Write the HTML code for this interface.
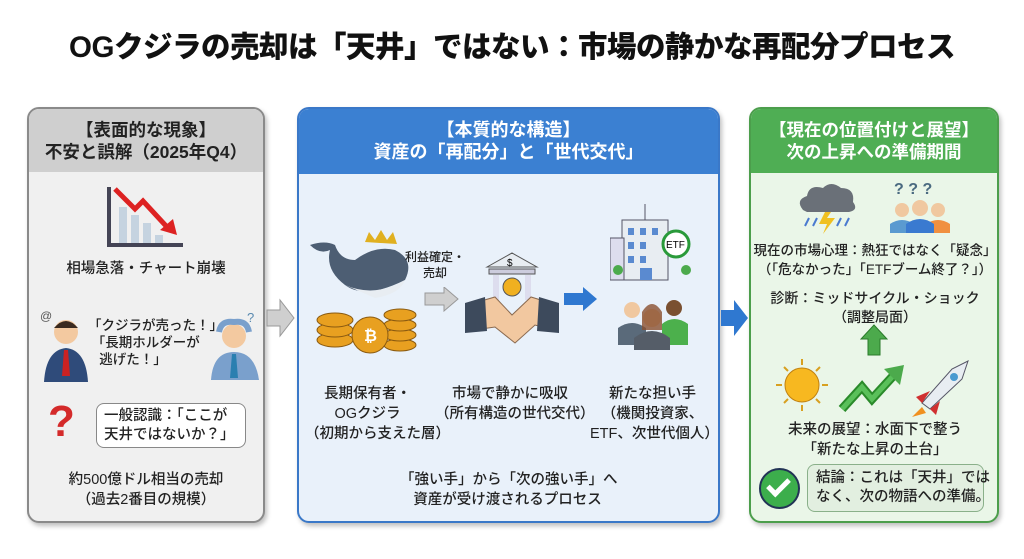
<!DOCTYPE html>
<html><head><meta charset="utf-8"><style>
*{margin:0;padding:0;box-sizing:border-box}
body{width:1024px;height:559px;background:#fff;position:relative;overflow:hidden;font-family:"Liberation Sans","Noto Sans CJK JP",sans-serif;color:#222}
.a{position:absolute}
.t{position:absolute;text-align:center;font-size:14.5px;line-height:19px;font-weight:500;color:#222;white-space:nowrap}
.panel{position:absolute;border-radius:12px;overflow:hidden;box-shadow:2px 3px 5px rgba(0,0,0,.25)}
.hd{position:absolute;left:0;right:0;top:0;text-align:center;font-weight:700;font-size:17.5px;line-height:22px;padding-top:10px;white-space:nowrap}
</style></head><body>
<div class="a" style="left:0;width:1024px;top:29px;text-align:center;font-size:29.5px;font-weight:900;letter-spacing:-0.5px;line-height:38px;color:#111;white-space:nowrap">OGクジラの売却は「天井」ではない：市場の静かな再配分プロセス</div>

<!-- left panel -->
<div class="panel" style="left:27px;top:107px;width:238px;height:416px;background:#f0f0f0;border:2px solid #8a8a8a">
 <div class="hd" style="height:63px;background:#cfcfcf;color:#222">【表面的な現象】<br>不安と誤解（2025年Q4）</div>
</div>
<svg class="a" style="left:105px;top:185px" width="80" height="65"><path d="M4 2V60H78" stroke="#445" stroke-width="4" fill="none"/><rect x="14" y="22" width="8" height="36" fill="#c5d3e0"/><rect x="26" y="30" width="8" height="28" fill="#c5d3e0"/><rect x="38" y="38" width="8" height="20" fill="#c5d3e0"/><rect x="50" y="50" width="8" height="8" fill="#c5d3e0"/><path d="M10 4L30 24L38 16L62 42" stroke="#d22" stroke-width="5" fill="none"/><path d="M55 45L72 50L68 34Z" fill="#d22"/></svg>
<div class="t" style="left:27px;width:238px;top:260px">相場急落・チャート崩壊</div>
<svg class="a" style="left:40px;top:310px" width="50" height="72"><circle cx="26" cy="22" r="12" fill="#f3c9a0"/><path d="M14 18Q26 4 38 18" fill="#3a2a20"/><path d="M4 72Q6 40 26 38Q46 40 48 72Z" fill="#2f4b7a"/><path d="M24 40h4l2 26h-8Z" fill="#c22"/><text x="0" y="10" font-size="12" fill="#555">@</text></svg>
<svg class="a" style="left:207px;top:312px" width="55" height="68"><circle cx="27" cy="24" r="12" fill="#f3c9a0"/><path d="M4 68Q6 40 27 40Q48 40 52 68Z" fill="#7aa0cc"/><path d="M25 42h4l2 24h-8Z" fill="#2a7fb0"/><path d="M12 20Q14 8 27 10Q40 8 42 20" stroke="#7aa0cc" stroke-width="6" fill="none"/><text x="40" y="10" font-size="13" fill="#5a8ab0">?</text></svg>
<div class="t" style="left:88px;width:115px;top:317px;text-align:left;line-height:17px;font-size:13.5px">「クジラが売った！」<br>&nbsp;「長期ホルダーが<br>&nbsp;&nbsp;&nbsp;逃げた！」</div>
<div class="a" style="left:48px;top:398px;font-size:44px;font-weight:900;color:#d42a2a;line-height:48px">?</div>
<div class="a" style="left:96px;top:403px;width:150px;height:45px;border:1.5px solid #888;border-radius:8px;background:#fff;font-size:14.5px;line-height:19px;padding:3px 7px;font-weight:500;white-space:nowrap">一般認識：「ここが<br>天井ではないか？」</div>
<div class="t" style="left:27px;width:238px;top:470px;line-height:20px">約500億ドル相当の売却<br>（過去2番目の規模）</div>

<!-- gray arrow -->
<svg class="a" style="left:266px;top:298px" width="30" height="40"><path d="M1 12H14V2L28 20L14 38V28H1Z" fill="#cfcfcf" stroke="#999"/></svg>

<!-- middle panel -->
<div class="panel" style="left:297px;top:107px;width:423px;height:416px;background:#e9f1fa;border:2px solid #3a78c8">
 <div class="hd" style="height:65px;background:#3b80d2;color:#fff;font-size:18px">【本質的な構造】<br>資産の「再配分」と「世代交代」</div>
</div>
<svg class="a" style="left:305px;top:230px" width="115" height="135">
<path d="M5 15Q15 25 25 20Q20 40 40 55Q60 70 100 50Q110 30 90 20Q70 15 50 30Q35 30 30 15Q20 10 5 15Z" fill="#4d5e73"/>
<path d="M40 55Q70 68 100 50Q95 64 70 68Z" fill="#e8edf2"/>
<path d="M60 12L64 2L70 10L76 0L82 10L88 2L92 14Z" fill="#e0b020"/>
<g fill="#e8a020" stroke="#8a5a10"><ellipse cx="30" cy="110" rx="18" ry="7"/><ellipse cx="30" cy="100" rx="18" ry="7"/><ellipse cx="30" cy="90" rx="18" ry="7"/><ellipse cx="95" cy="115" rx="16" ry="6"/><ellipse cx="95" cy="105" rx="16" ry="6"/><ellipse cx="95" cy="95" rx="16" ry="6"/><ellipse cx="95" cy="85" rx="16" ry="6"/><circle cx="65" cy="105" r="18"/></g>
<text x="59" y="111" font-size="16" fill="#fff" font-weight="bold">₿</text></svg>
<div class="t" style="left:405px;width:60px;top:249px;font-size:12px;line-height:16px">利益確定・<br>売却</div>
<svg class="a" style="left:424px;top:287px" width="36" height="25"><path d="M1 6H20V0L34 12L20 24V18H1Z" fill="#cfcfcf" stroke="#999"/></svg>
<svg class="a" style="left:465px;top:245px" width="95" height="100">
<path d="M22 22L47 8L72 22Z" fill="#e8edf2" stroke="#555"/><text x="42" y="21" font-size="10">$</text>
<rect x="24" y="24" width="46" height="5" fill="#ccd" stroke="#555"/><rect x="28" y="30" width="6" height="25" fill="#dde"/><rect x="60" y="30" width="6" height="25" fill="#dde"/>
<circle cx="47" cy="42" r="9" fill="#f0b020" stroke="#555"/>
<path d="M2 60L30 52L47 70L66 52L92 60V86L70 80L50 98L30 82L2 86Z" fill="#f2c8a0" stroke="#8a6a50"/>
<path d="M0 58L20 52L22 86L0 88Z M74 52L94 58V88L72 86Z" fill="#3d4a5c"/></svg>
<svg class="a" style="left:563px;top:287px" width="36" height="25"><path d="M1 6H20V0L34 12L20 24V18H1Z" fill="#2f78d0"/></svg>
<svg class="a" style="left:610px;top:200px" width="90" height="150">
<rect x="12" y="20" width="46" height="60" fill="#e8edf2" stroke="#556"/><rect x="0" y="38" width="14" height="42" fill="#dde" stroke="#556"/><path d="M35 4V20" stroke="#556"/>
<g fill="#5a8ad0"><rect x="18" y="28" width="6" height="7"/><rect x="30" y="28" width="6" height="7"/><rect x="42" y="28" width="6" height="7"/><rect x="18" y="42" width="6" height="7"/><rect x="30" y="42" width="6" height="7"/><rect x="18" y="56" width="6" height="7"/><rect x="30" y="56" width="6" height="7"/><rect x="30" y="68" width="12" height="12"/></g>
<circle cx="66" cy="44" r="13" fill="#fff" stroke="#2a9a3a" stroke-width="3"/><text x="56" y="48" font-size="10">ETF</text>
<circle cx="8" cy="70" r="5" fill="#4caa4c"/><circle cx="76" cy="70" r="5" fill="#4caa4c"/>
<circle cx="22" cy="110" r="8" fill="#f0c8a0"/><circle cx="64" cy="108" r="8" fill="#7a5030"/><path d="M8 145V128Q22 118 36 128V145Z" fill="#5a6a7a"/><path d="M52 145V124Q64 114 78 124V145Z" fill="#4cb04c"/>
<circle cx="42" cy="118" r="9" fill="#f0c8a0"/><path d="M32 112Q42 96 52 112V130H32Z" fill="#8a5030" opacity=".8"/><path d="M24 150V138Q42 124 60 138V150Z" fill="#555d68"/></svg>
<div class="t" style="left:305px;width:125px;top:384px;line-height:20px">長期保有者・<br>OGクジラ<br>（初期から支えた層）</div>
<div class="t" style="left:435px;width:150px;top:384px;line-height:20px">市場で静かに吸収<br>（所有構造の世代交代）</div>
<div class="t" style="left:590px;width:125px;top:384px;line-height:20px">新たな担い手<br>（機関投資家、<br>ETF、次世代個人）</div>
<div class="t" style="left:400px;width:215px;top:470px;line-height:20px">「強い手」から「次の強い手」へ<br>資産が受け渡されるプロセス</div>

<!-- blue arrow -->
<svg class="a" style="left:720px;top:298px" width="30" height="40"><path d="M1 12H14V2L28 20L14 38V28H1Z" fill="#2f78d0"/></svg>

<!-- right panel -->
<div class="panel" style="left:749px;top:107px;width:250px;height:416px;background:#eaf6e8;border:2px solid #4c9e4c">
 <div class="hd" style="height:64px;background:#4fae54;color:#fff">【現在の位置付けと展望】<br>次の上昇への準備期間</div>
</div>
<svg class="a" style="left:795px;top:180px" width="65" height="55"><path d="M8 30Q0 20 12 16Q14 4 28 8Q36 0 46 8Q60 8 58 22Q64 30 54 32H12Z" fill="#6a7078"/><path d="M30 32L24 44H32L28 54L40 38H32L36 32Z" fill="#f0c020"/><path d="M14 38l-4 8M22 38l-4 8M46 38l-4 8M54 38l-4 8" stroke="#4a7ad0" stroke-width="2"/></svg>
<svg class="a" style="left:888px;top:178px" width="65" height="55"><text x="6" y="16" font-size="16" fill="#4a6a80" font-weight="bold">? ? ?</text><circle cx="14" cy="32" r="7" fill="#f0c8a0"/><circle cx="50" cy="32" r="7" fill="#f0c8a0"/><circle cx="32" cy="30" r="8" fill="#f0c8a0"/><path d="M2 55V46Q14 38 26 46V55Z" fill="#5a9ad0"/><path d="M38 55V46Q50 38 62 46V55Z" fill="#f09040"/><path d="M18 55V46Q32 36 46 46V55Z" fill="#3a7ad0"/></svg>
<div class="t" style="left:750px;width:250px;top:241px;font-size:13.5px;line-height:19px">現在の市場心理：熱狂ではなく「疑念」<br>（「危なかった」「ETFブーム終了？」）</div>
<div class="t" style="left:750px;width:250px;top:289px;font-size:14px;line-height:19px">診断：ミッドサイクル・ショック<br>（調整局面）</div>
<svg class="a" style="left:860px;top:324px" width="28" height="32"><path d="M14 1L27 15H20V31H8V15H1Z" fill="#4caa4c" stroke="#2a7a2a"/></svg>
<svg class="a" style="left:772px;top:357px" width="200" height="60"><circle cx="30" cy="28" r="17" fill="#f7b820" stroke="#c08010"/><g stroke="#d8a020" stroke-width="2"><path d="M30 2v6M30 48v6M4 28h6M50 28h6M12 10l4 4M44 42l4 4M48 10l-4 4M12 46l4-4"/></g>
<path d="M70 52L90 30L100 42L122 18" stroke="#2a8a2a" stroke-width="9" fill="none"/><path d="M70 52L90 30L100 42L122 18" stroke="#5ac05a" stroke-width="5" fill="none"/><path d="M112 12L132 8L128 28Z" fill="#4caa4c"/>
<path d="M150 46L180 12L196 4L190 22L158 52Z" fill="#e8edf2" stroke="#556"/><circle cx="182" cy="20" r="4" fill="#4a9ad0"/><path d="M150 46L144 40L158 34Z M158 52L164 58L168 44Z" fill="#d03030"/><path d="M150 50L140 60L154 56Z" fill="#f09020"/></svg>
<div class="t" style="left:750px;width:250px;top:420px;line-height:20px">未来の展望：水面下で整う<br>「新たな上昇の土台」</div>
<div class="a" style="left:759px;top:468px;width:41px;height:41px;border-radius:50%;background:#3cae4c;border:2px solid #235;"></div>
<div class="a" style="left:772px;top:474px;width:13px;height:22px;border:solid #fff;border-width:0 5px 5px 0;transform:rotate(45deg)"></div>
<div class="a" style="left:807px;top:464px;width:177px;height:48px;border:1.5px solid #8ab08a;border-radius:8px;background:#e2efe0;font-size:14.5px;line-height:19px;padding:4px 8px;font-weight:500;white-space:nowrap">結論：これは「天井」では<br>なく、次の物語への準備。</div>
</body></html>
